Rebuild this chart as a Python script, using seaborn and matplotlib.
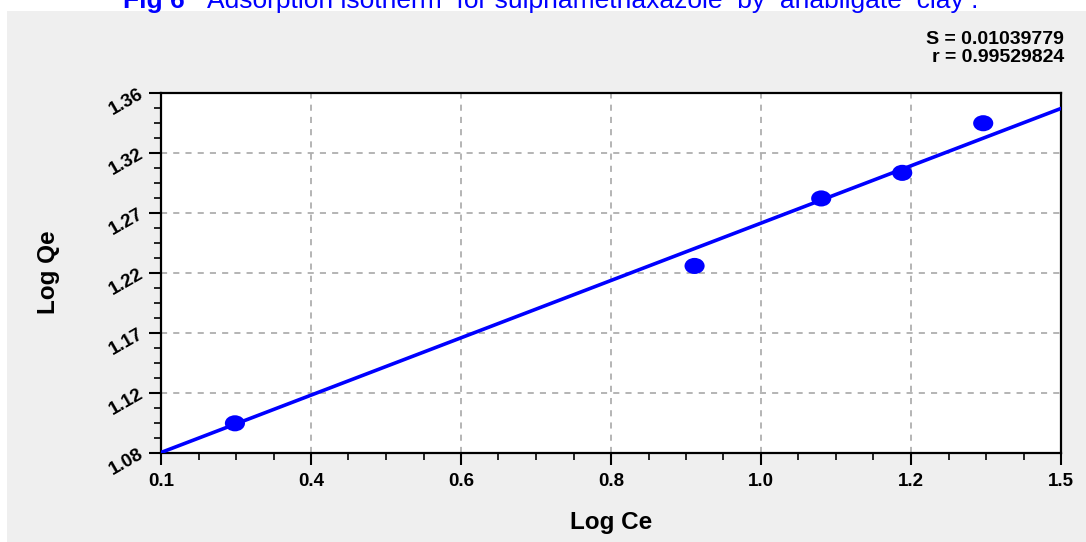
import numpy as np
import pandas as pd
import seaborn as sns
import matplotlib
matplotlib.use("Agg")
import matplotlib.pyplot as plt
from matplotlib.path import Path
from matplotlib.transforms import Affine2D
from matplotlib.patches import Rectangle
from matplotlib.ticker import AutoMinorLocator, FixedLocator

# ---- data ----
log_ce = [0.215, 0.930, 1.127, 1.253, 1.379]
log_qe = [1.1027, 1.2251, 1.2776, 1.2975, 1.3361]
fit_x = [0.1, 1.5]
fit_y = [1.080, 1.3476]
x_tick_labels = ["0.1", "0.4", "0.6", "0.8", "1.0", "1.2", "1.5"]
y_tick_labels = ["1.08", "1.12", "1.17", "1.22", "1.27", "1.32", "1.36"]
title_bold = "Fig 6"
title_rest = "Adsorption isotherm  for sulphamethaxazole  by  anabilgate  clay ."
stats_lines = ["S = 0.01039779", "r = 0.99529824"]
x_label = "Log Ce"
y_label = "Log Qe"

sns.set_theme(style="white")
plt.rcParams['font.family'] = ['Liberation Sans', 'DejaVu Sans']

W, H = 1086, 542
fig = plt.figure(figsize=(W / 100, H / 100), dpi=100)
fig.patch.set_facecolor("white")
# gray panel
fig.patches.append(Rectangle((7 / W, 0), 1 - 7 / W, 1 - 11 / H, transform=fig.transFigure,
                             facecolor="#EFEFEF", edgecolor="none", zorder=-10))

ax = fig.add_axes([161 / W, 1 - 452.5 / H, 900 / W, 360 / H])
ax.set_facecolor("white")

df = pd.DataFrame({"x": log_ce, "y": log_qe})
fit_df = pd.DataFrame({"x": fit_x, "y": fit_y})

sns.lineplot(data=fit_df, x="x", y="y", ax=ax, color="#0000FF", linewidth=2.6, zorder=3)

ell = Path.unit_circle().transformed(Affine2D().scale(1.25, 1.0))
sns.scatterplot(data=df, x="x", y="y", ax=ax, marker=ell, s=210, color="#0000FF",
                edgecolor="none", linewidth=0, zorder=4)

ax.set_xlim(0.1, 1.5)
ax.set_ylim(1.08, 1.36)
xt = np.linspace(0.1, 1.5, len(x_tick_labels))
yt = np.linspace(1.08, 1.36, len(y_tick_labels))
ax.xaxis.set_major_locator(FixedLocator(xt))
ax.yaxis.set_major_locator(FixedLocator(yt))
ax.set_xticklabels(x_tick_labels, fontsize=13.5, fontweight="bold", color="black")
ax.set_yticklabels(y_tick_labels, fontsize=13.5, fontweight="bold", color="black",
                   rotation=30, rotation_mode="anchor", ha="right", va="center")
ax.xaxis.set_minor_locator(AutoMinorLocator(4))
ax.yaxis.set_minor_locator(AutoMinorLocator(4))
ax.tick_params(which="major", direction="out", length=8.5, width=1.5, color="black",
               bottom=True, left=True, top=False, right=False)
ax.tick_params(axis="x", which="major", pad=6)
ax.tick_params(axis="y", which="major", pad=5)
ax.tick_params(which="minor", direction="out", length=5, width=1.2, color="black",
               bottom=True, left=True, top=False, right=False)

ax.grid(True, which="major", color="#A0A0A0", linestyle=(0, (4, 4)), linewidth=1.1)
for s in ax.spines.values():
    s.set_visible(True)
    s.set_color("black")
    s.set_linewidth(1.6)

ax.set_xlabel(x_label, fontsize=17.5, fontweight="bold", color="black", va="center")
ax.set_ylabel(y_label, fontsize=17.5, fontweight="bold", color="black", va="center")
ax.xaxis.set_label_coords(0.5, (452.5 - 522) / 360)
ax.yaxis.set_label_coords((48 - 161) / 900, 0.5)

# stats text
fig.text(1064 / W, 1 - 39 / H, stats_lines[0], ha="right", va="center",
         fontsize=14, fontweight="bold", color="black")
fig.text(1064 / W, 1 - 57 / H, stats_lines[1], ha="right", va="center",
         fontsize=14, fontweight="bold", color="black")

# title (cut off at the top, as in the reference)
fig.text(123 / W, 1 - 8 / H, title_bold, ha="left", va="baseline",
         fontsize=19, fontweight="bold", color="#0000FF")
fig.text(207 / W, 1 - 8 / H, title_rest, ha="left", va="baseline",
         fontsize=19, color="#0000FF")

fig.savefig("out.png", dpi=100)
